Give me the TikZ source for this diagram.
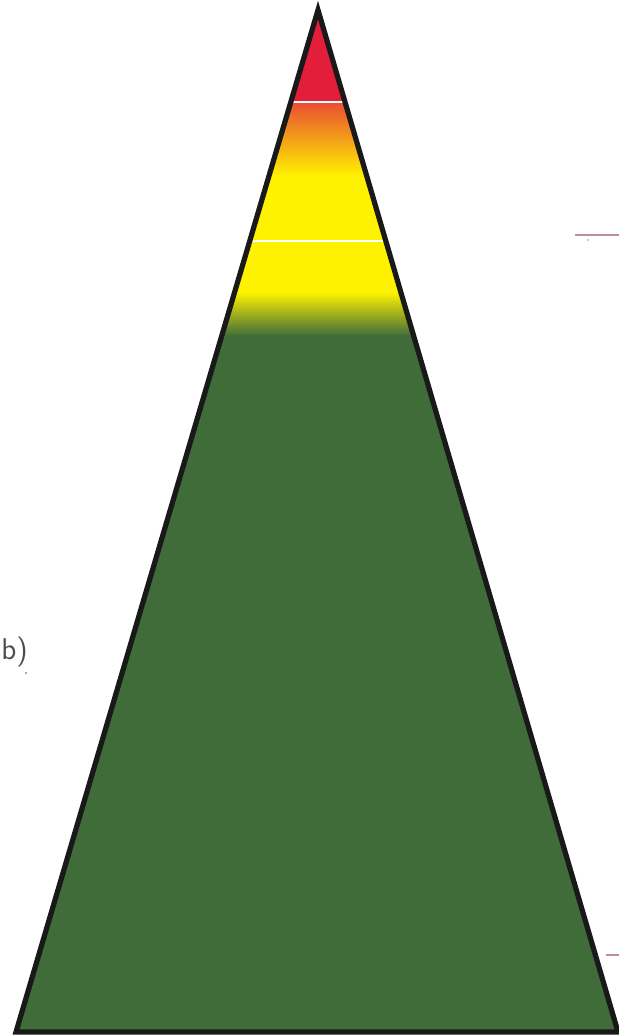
\documentclass[tikz,border=0pt]{standalone}
\usepackage{tikz}
\usetikzlibrary{calc}
\definecolor{tipred}{RGB}{226,30,58}
\definecolor{midorange}{RGB}{236,92,48}
\definecolor{midyellow}{RGB}{255,242,0}
\definecolor{limegreen}{RGB}{150,198,45}
\definecolor{basegreen}{RGB}{64,108,58}
\definecolor{markpink}{RGB}{190,140,160}
\tikzset{outl/.style={draw=black!90,line width=2.6pt,line join=miter}}
\tikzset{sep/.style={draw=white,line width=0.9pt}}
\tikzset{tick/.style={draw=markpink,line width=0.7pt}}

\begin{document}
\begin{tikzpicture}[x=0.5pt,y=-0.5pt]
\useasboundingbox (0,0) rectangle (619,1036);
\coordinate (apex) at (318,10);
\coordinate (bl) at (16,1032);
\coordinate (br) at (618,1032);
% coloured bands
\begin{scope}
\clip (apex) -- (bl) -- (br) -- cycle;
\fill[tipred] (0,0) rectangle (619,103);
\shade[top color=midorange!80!tipred,bottom color=midyellow] (0,103) rectangle (619,176);
\fill[midyellow] (0,175) rectangle (619,293);
\shade[top color=midyellow,middle color=limegreen,bottom color=basegreen] (0,292) rectangle (619,336);
\fill[basegreen] (0,335) rectangle (619,1036);
\draw[sep] (0,102) -- (619,102);
\draw[sep] (0,241) -- (619,241);
\end{scope}
\draw[outl] (apex) -- (bl) -- (br) -- cycle;
% side marks
\coordinate (t1) at (575,235);
\coordinate (t2) at (619,235);
\draw[tick] (t1) -- (t2);
\coordinate (t3) at (606,955);
\coordinate (t4) at (619,955);
\draw[tick] (t3) -- (t4);
\fill[black!20] (588,240) circle (1.5);
\fill[black!45] (26,673) circle (1.2);
\node[anchor=west,text=black!70,inner sep=0pt,font=\sffamily\fontsize{15}{15}\selectfont] (lbl) at (1,652) {b)};
\end{tikzpicture}
\end{document}
